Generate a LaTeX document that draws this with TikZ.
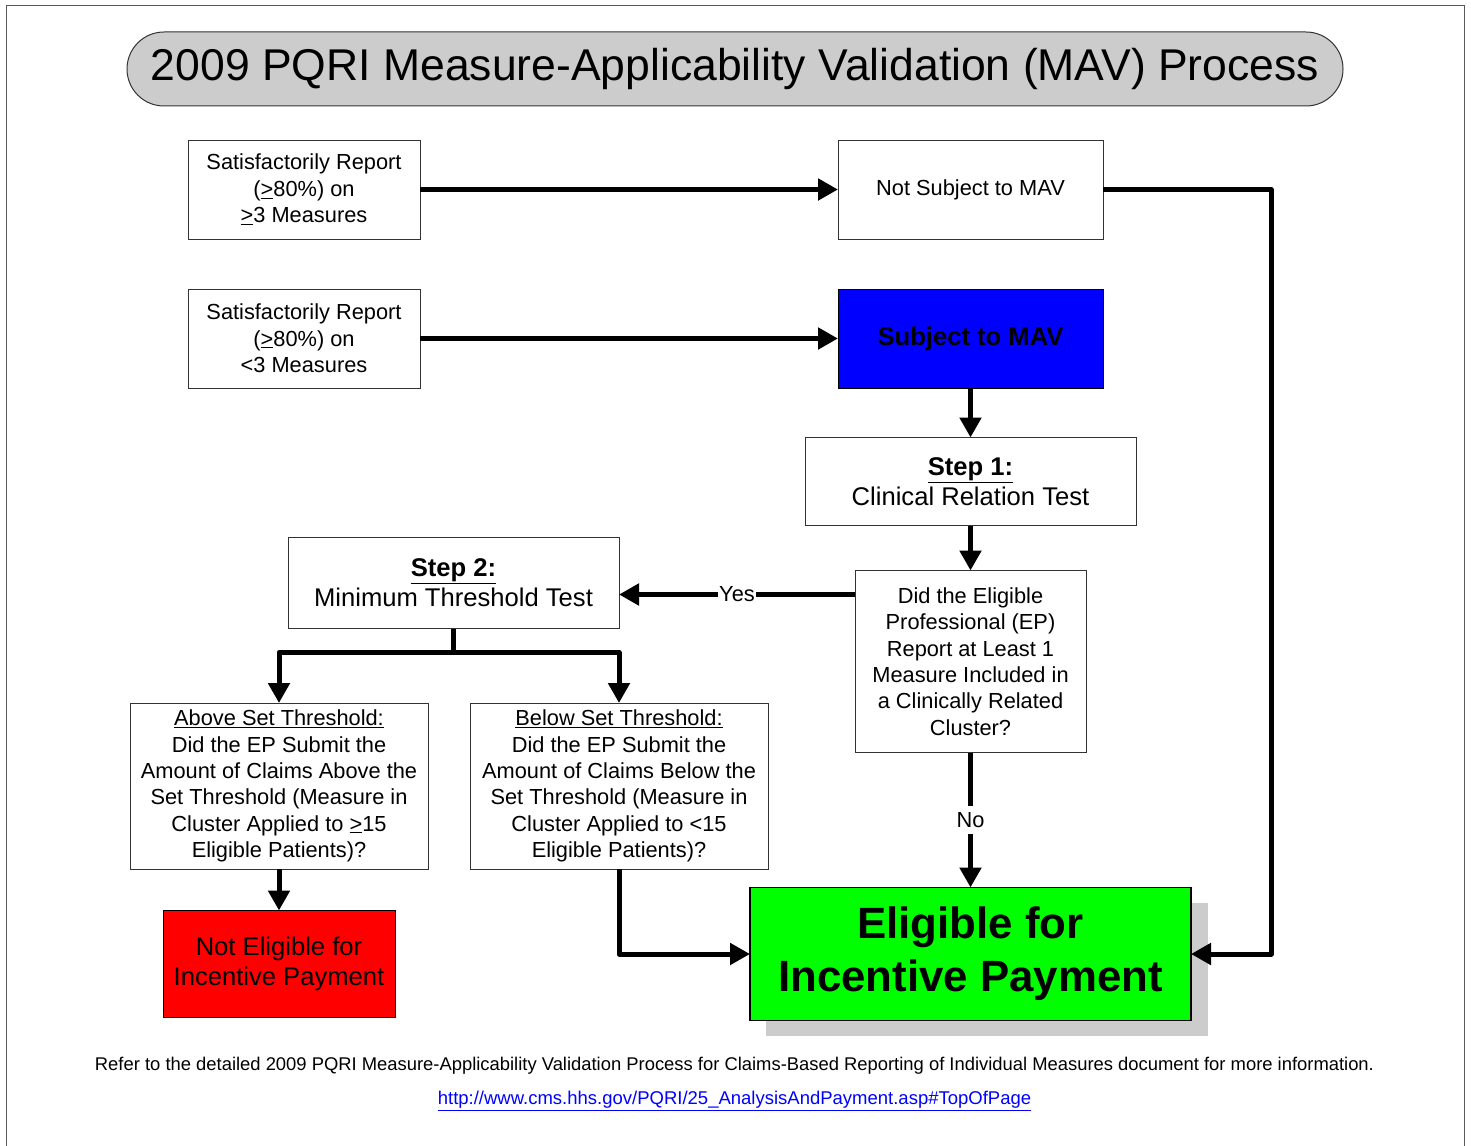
\documentclass[tikz,border=0pt]{standalone}
\usepackage{fontspec}
\setmainfont{Liberation Sans}
\usetikzlibrary{arrows.meta}
\definecolor{titlegray}{HTML}{CCCCCC}
\definecolor{shadowgray}{HTML}{CCCCCC}
\definecolor{boxline}{HTML}{333333}
\definecolor{mavblue}{HTML}{0000FF}
\definecolor{eliggreen}{HTML}{00FF00}
\definecolor{notred}{HTML}{FF0000}
\definecolor{linkblue}{HTML}{0000FF}
\begin{document}
\begin{tikzpicture}[x=1pt,y=-1pt,
  box/.style={draw=boxline,line width=1pt,fill=white,outer sep=0pt,inner sep=0pt,align=center,
    font=\fontsize{21.8}{26.4}\selectfont},
  bigbox/.style={box,font=\fontsize{25.6}{30}\selectfont},
  arr/.style={line width=5pt,-{Triangle[length=20pt,width=21pt]}},
  plain/.style={line width=5pt},
  lbl/.style={fill=white,inner sep=1pt,font=\fontsize{21.8}{26}\selectfont}]
\useasboundingbox (0,0) rectangle (1471,1145);
\fill[white] (0,0) rectangle (1471,1145);
\draw[gray!70!black,line width=1pt] (6,6) rectangle (1464,1170);

% title
\node[draw=boxline,line width=1pt,fill=titlegray,rounded corners=37pt,minimum width=1216pt,minimum height=74pt,inner sep=0pt,
  font=\fontsize{44.5}{50}\selectfont] (title) at (735,69) {2009 PQRI Measure-Applicability Validation (MAV) Process};

% boxes
\node[box,minimum width=232pt,minimum height=99pt] (a1) at (304,189.5)
  {Satisfactorily Report\\(\underline{>}80\%) on\\\underline{>}3 Measures};
\node[box,minimum width=265pt,minimum height=99pt] (ns) at (970.5,189.5) {Not Subject to MAV};
\node[box,minimum width=232pt,minimum height=99pt] (a2) at (304,338.5)
  {Satisfactorily Report\\(\underline{>}80\%) on\\<3 Measures};
\node[box,fill=mavblue,draw=black,minimum width=265pt,minimum height=99pt,
  font=\fontsize{25.6}{30}\selectfont\bfseries] (s) at (970.5,338.5) {Subject to MAV};
\node[bigbox,minimum width=331pt,minimum height=88pt] (st1) at (970.5,481.5)
  {\textbf{\underline{Step 1:}}\\Clinical Relation Test};
\node[box,minimum width=231pt,minimum height=182pt] (q) at (970.5,661.5)
  {Did the Eligible\\Professional (EP)\\Report at Least 1\\Measure Included in\\a Clinically Related\\Cluster?};
\node[bigbox,minimum width=331pt,minimum height=91pt] (st2) at (453.5,583)
  {\textbf{\underline{Step 2:}}\\Minimum Threshold Test};
\node[box,minimum width=298pt,minimum height=166pt] (above) at (279,786)
  {\underline{Above Set Threshold:}\\Did the EP Submit the\\Amount of Claims Above the\\Set Threshold (Measure in\\Cluster Applied to \underline{>}15\\Eligible Patients)?};
\node[box,minimum width=298pt,minimum height=166pt] (below) at (619,786)
  {\underline{Below Set Threshold:}\\Did the EP Submit the\\Amount of Claims Below the\\Set Threshold (Measure in\\Cluster Applied to <15\\Eligible Patients)?};
\node[bigbox,fill=notred,draw=black,minimum width=232pt,minimum height=107pt] (ne) at (279,964)
  {Not Eligible for\\Incentive Payment};
\fill[shadowgray] (766,903) rectangle (1208,1036);
\node[box,fill=eliggreen,draw=black,line width=1.5pt,minimum width=441pt,minimum height=133pt,
  font=\fontsize{43.8}{53}\selectfont\bfseries] (el) at (970.5,954)
  {Eligible for\\Incentive Payment};

% connectors
\draw[arr] (a1.east) -- (ns.west);
\draw[arr] (a2.east) -- (s.west);
\coordinate (rc1) at (1271,189.5);
\coordinate (rc2) at (1271,954);
\draw[arr,line join=round] (ns.east) -- (rc1) -- (rc2) -- (el.east);
\draw[arr] (s.south) -- (st1.north);
\draw[arr] (st1.south) -- (q.north);
\draw[arr] ([yshift=-24pt]q.north west) -- node[lbl,pos=0.5]{Yes} ([yshift=-11.5pt]st2.east);
\draw[arr] (q.south) -- node[lbl,pos=0.5,inner ysep=6pt]{No} (el.north);
\coordinate (br) at (453.5,652.5);
\draw[plain] (st2.south) -- (br);
\draw[arr,line join=round] (br) -| (above.north);
\draw[arr,line join=round] (br) -| (below.north);
\draw[arr] (above.south) -- (ne.north);
\draw[arr,line join=round] (below.south) |- (el.west);

% footer
\node[inner sep=0pt,font=\fontsize{18.4}{21}\selectfont] (foot) at (734.5,1066)
  {Refer to the detailed 2009 PQRI Measure-Applicability Validation Process for Claims-Based Reporting of Individual Measures document for more information.};
\node[inner sep=0pt,text=linkblue,font=\fontsize{18.5}{21}\selectfont] (link) at (734.5,1101)
  {\underline{http://www.cms.hhs.gov/PQRI/25\_AnalysisAndPayment.asp\#TopOfPage}};
\end{tikzpicture}
\end{document}
